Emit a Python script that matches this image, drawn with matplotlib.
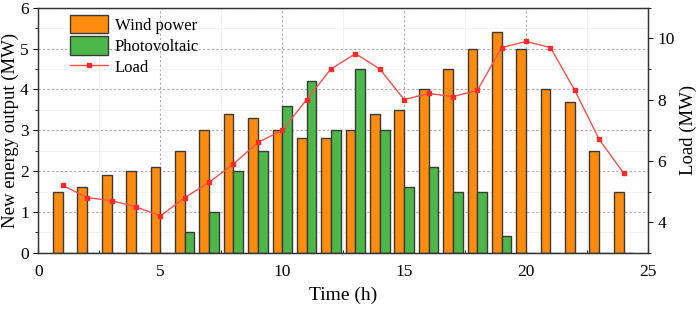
import numpy as np
import matplotlib.pyplot as plt

plt.rcParams['font.family'] = ['Liberation Serif', 'DejaVu Serif']

hours = np.arange(1, 25)
wind = [1.5, 1.6, 1.9, 2.0, 2.1, 2.5, 3.0, 3.4, 3.3, 3.0, 2.8, 2.8,
        3.0, 3.4, 3.5, 4.0, 4.5, 5.0, 5.4, 5.0, 4.0, 3.7, 2.5, 1.5]
pv = [0, 0, 0, 0, 0, 0.5, 1.0, 2.0, 2.5, 3.6, 4.2, 3.0,
      4.5, 3.0, 1.6, 2.1, 1.5, 1.5, 0.4, 0, 0, 0, 0, 0]
load = [5.2, 4.8, 4.7, 4.5, 4.2, 4.8, 5.3, 5.9, 6.6, 7.0, 8.0, 9.0,
        9.5, 9.0, 8.0, 8.2, 8.1, 8.3, 9.7, 9.9, 9.7, 8.3, 6.7, 5.6]

fig = plt.figure(figsize=(6.99, 3.09), dpi=100)
ax = fig.add_axes([0.055, 0.182, 0.872, 0.793])

ax.grid(True, which='minor', color='#f0f0f0', lw=0.6)
ax.grid(True, which='major', color='#aaaaaa', ls=(0, (2, 2)), lw=0.8)
ax.set_axisbelow(True)

b1 = ax.bar(hours, wind, width=-0.4, align='edge', color='#ff8c0f',
            edgecolor='#3a3a3a', lw=1.0, label='Wind power')
b2 = ax.bar(hours, pv, width=0.4, align='edge', color='#4db84a',
            edgecolor='#3a3a3a', lw=1.0, label='Photovoltaic')

ax2 = ax.twinx()
l1, = ax2.plot(hours, load, color='#ff5050', lw=1.0, marker='s', ms=3.5,
               mfc='#ff2a2a', mec='#ff2a2a', label='Load')

ax.set_xlim(0, 25)
ax.set_ylim(0, 6)
ax2.set_ylim(3, 11)
ax.set_xticks(np.arange(0, 26, 5))
ax.set_xticks(np.arange(0, 25, 2.5), minor=True)
ax.set_yticks(np.arange(0, 7, 1))
ax.set_yticks(np.arange(0, 6.1, 0.5), minor=True)
ax2.set_yticks([4, 6, 8, 10])
ax2.set_yticks([3, 5, 7, 9, 11], minor=True)

ax.tick_params(axis='x', which='both', direction='in', labelsize=12.5, pad=8)
ax.tick_params(axis='y', which='both', direction='out', labelsize=12.5)
ax2.tick_params(axis='y', which='both', direction='out', labelsize=12.5)
for a in (ax, ax2):
    for s in a.spines.values():
        s.set_color('#333333')
        s.set_linewidth(0.9)

ax.set_xlabel('Time (h)', fontsize=14, labelpad=5)
ax.set_ylabel('New energy output (MW)', fontsize=13.5, labelpad=1)
ax2.set_ylabel('Load (MW)', fontsize=13.5, labelpad=3)

ax.legend([b1, b2, l1], ['Wind power', 'Photovoltaic', 'Load'],
          loc='upper left', bbox_to_anchor=(0.035, 1.01), frameon=False,
          fontsize=12, handlelength=2.3, handleheight=1.3,
          labelspacing=0.15, handletextpad=0.4, borderaxespad=0.2)

fig.savefig('out.png', dpi=100)
